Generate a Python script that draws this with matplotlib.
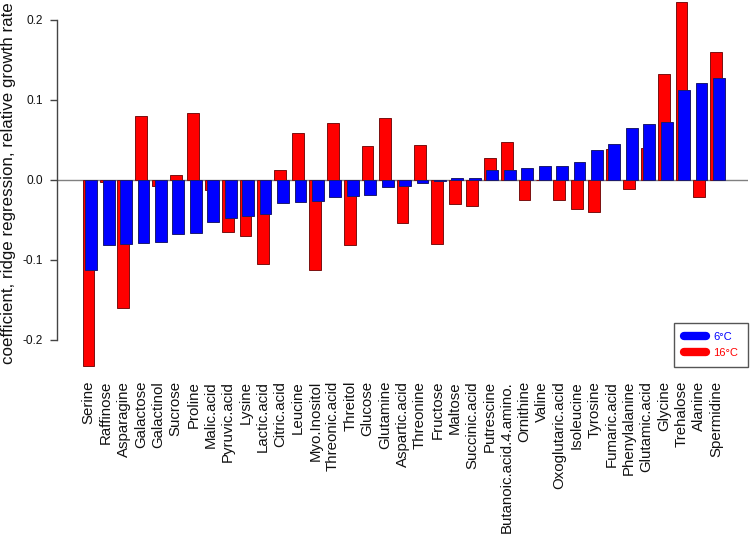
import matplotlib
matplotlib.use("Agg")
import matplotlib.pyplot as plt
from matplotlib.lines import Line2D
import numpy as np

plt.rcParams['font.family'] = ['Liberation Sans', 'DejaVu Sans']

metabolites = ["Serine", "Raffinose", "Asparagine", "Galactose", "Galactinol", "Sucrose",
               "Proline", "Malic.acid", "Pyruvic.acid", "Lysine", "Lactic.acid", "Citric.acid",
               "Leucine", "Myo.Inositol", "Threonic.acid", "Threitol", "Glucose", "Glutamine",
               "Aspartic.acid", "Threonine", "Fructose", "Maltose", "Succinic.acid", "Putrescine",
               "Butanoic.acid.4.amino.", "Ornithine", "Valine", "Oxoglutaric.acid", "Isoleucine",
               "Tyrosine", "Fumaric.acid", "Phenylalanine", "Glutamic.acid", "Glycine",
               "Trehalose", "Alanine", "Spermidine"]

coef_6C = [-0.1125, -0.081, -0.080, -0.079, -0.078, -0.0675,
           -0.0667, -0.0525, -0.0475, -0.045, -0.043, -0.029,
           -0.028, -0.026, -0.0217, -0.0196, -0.019, -0.009,
           -0.008, -0.004, -0.001, 0.003, 0.003, 0.012,
           0.013, 0.015, 0.0175, 0.018, 0.023,
           0.038, 0.045, 0.065, 0.070, 0.0725,
           0.112, 0.121, 0.1275]

coef_16C = [-0.233, -0.002, -0.160, 0.080, -0.007, 0.0067,
            0.084, -0.0125, -0.065, -0.070, -0.105, 0.012,
            0.059, -0.1125, 0.071, -0.081, 0.043, 0.078,
            -0.054, 0.044, -0.080, -0.030, -0.032, 0.027,
            0.047, -0.025, 0.0, -0.025, -0.036,
            -0.040, 0.039, -0.011, 0.040, 0.133,
            0.223, -0.021, 0.160]

yticks = [-0.2, -0.1, 0.0, 0.1, 0.2]
ytick_labels = ["-0.2", "-0.1", "0.0", "0.1", "0.2"]
legend_labels = ["6\u00b0C", "16\u00b0C"]

W, H = 750, 535
fig = plt.figure(figsize=(W / 100, H / 100), dpi=100)
ax = fig.add_axes([57 / W, 1 - 367 / H, (748 - 57) / W, 367 / H])

x = np.arange(len(metabolites))
bw = 0.68
ax.axhline(0, color='#808080', lw=1.0, zorder=1)
ax.bar(x - 0.075, coef_16C, width=bw, color='#ff0000', edgecolor='#7a1010', linewidth=0.7, zorder=2)
ax.bar(x + 0.075, coef_6C, width=bw, color='#0000ff', edgecolor='#1a1a70', linewidth=0.7, zorder=3)

ax.set_xlim(-1.884, 37.74)
ax.set_ylim(-0.23375, 0.225)

for s in ['top', 'right', 'bottom']:
    ax.spines[s].set_visible(False)
ax.spines['left'].set_bounds(-0.2, 0.2)
ax.spines['left'].set_color('#444444')
ax.spines['left'].set_linewidth(1.0)

ax.set_yticks(yticks)
ax.set_yticklabels(ytick_labels, fontsize=8.6, color='#111111')
ax.tick_params(axis='y', length=5, width=1.0, color='#444444', pad=5)

ax.set_xticks(x - 0.07)
ax.set_xticklabels(metabolites, rotation=90, fontsize=10.8, color='#111111')
ax.tick_params(axis='x', length=0, pad=10)

fig.text(9 / W, 1 - 183.5 / H, "coefficient, ridge regression, relative growth rate",
         rotation=90, ha='center', va='center', fontsize=12.2, color='#111111')

handles = [Line2D([0], [0], color='#0000ff', lw=6, solid_capstyle='round'),
           Line2D([0], [0], color='#ff0000', lw=6, solid_capstyle='round')]
leg = ax.legend(handles, legend_labels, loc='lower right', bbox_to_anchor=(1.0, 0.0),
                borderaxespad=0, fontsize=8, labelcolor=['#0000ff', '#ff0000'],
                fancybox=False, framealpha=1, edgecolor='#555555', handlelength=2.0,
                handletextpad=0.7, borderpad=0.85, labelspacing=0.5)
leg.get_frame().set_linewidth(1.0)

fig.savefig("out.png", dpi=100, facecolor='white')
